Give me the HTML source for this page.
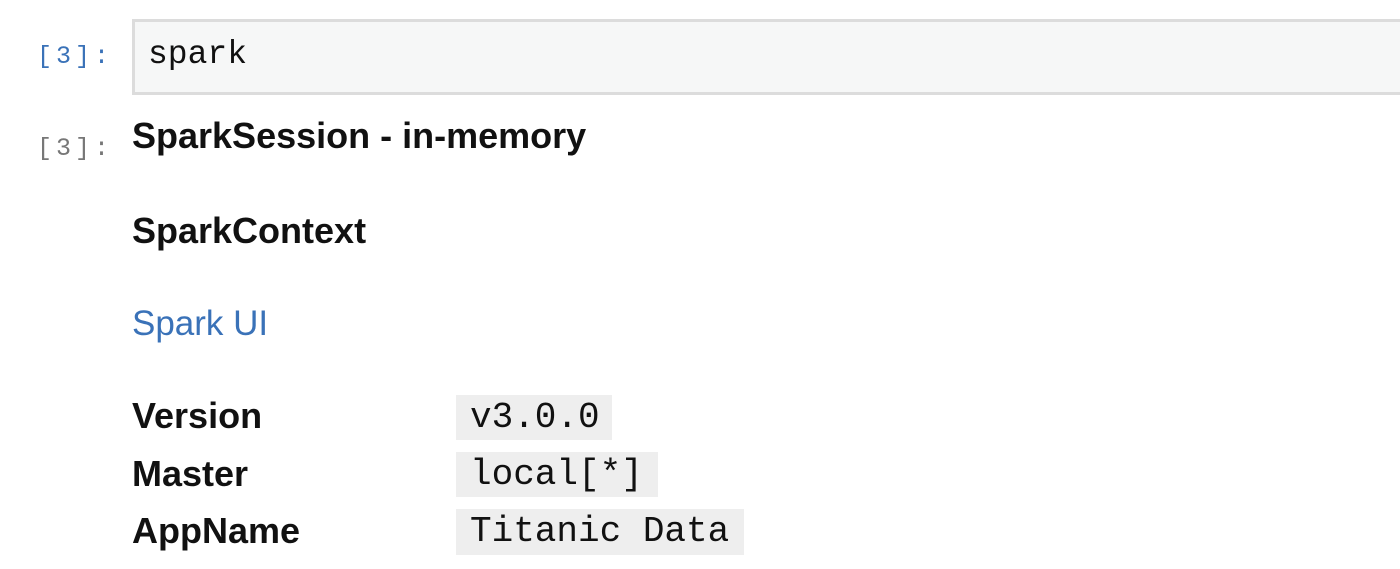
<!DOCTYPE html>
<html><head><style>
body{margin:0;width:1400px;height:569px;background:#fff;position:relative;overflow:hidden;font-family:"Liberation Sans",sans-serif;}
.a{position:absolute;line-height:1;white-space:nowrap;}
.b{font-weight:bold;font-size:36px;color:#111;}
.p{font-family:"Liberation Mono",monospace;font-size:25px;letter-spacing:4px;}
.c{position:absolute;background:#eeeeee;font-family:"Liberation Mono",monospace;font-size:36px;color:#111;box-sizing:border-box;padding-left:14px;height:45px;line-height:45px;}
</style></head><body>
<div class="a p" style="left:37px;top:44px;color:#3a72b8;">[3]:</div>
<div style="position:absolute;left:132px;top:19px;width:1300px;height:76px;box-sizing:border-box;border:3px solid #dcdcdc;background:#f6f7f7;"></div>
<div class="a" style="left:148px;top:38px;font-family:'Liberation Mono',monospace;font-size:33px;color:#111;">spark</div>
<div class="a p" style="left:37px;top:136px;color:#777;">[3]:</div>
<div class="a b" style="left:132px;top:118px;">SparkSession - in-memory</div>
<div class="a b" style="left:132px;top:213px;">SparkContext</div>
<div class="a" style="left:132px;top:306px;font-size:35px;color:#3a72b8;">Spark UI</div>
<div class="a b" style="left:132px;top:398px;">Version</div>
<div class="a b" style="left:132px;top:456px;">Master</div>
<div class="a b" style="left:132px;top:513px;">AppName</div>
<div class="c" style="left:456px;top:395px;width:156px;">v3.0.0</div>
<div class="c" style="left:456px;top:452px;width:202px;">local[*]</div>
<div class="c" style="left:456px;top:509px;width:288px;height:46px;line-height:46px;">Titanic Data</div>
</body></html>
